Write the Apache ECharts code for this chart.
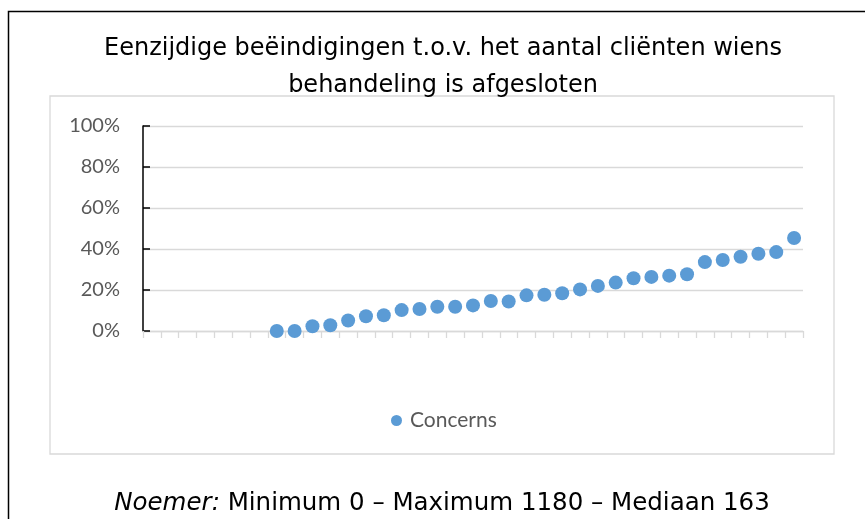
<!DOCTYPE html>
<html>
<head>
<meta charset="utf-8">
<script src="https://cdn.jsdelivr.net/npm/echarts@6/dist/echarts.min.js"></script>
<style>
  html, body { margin: 0; padding: 0; background: #fff; }
  #chart { width: 865px; height: 519px; }
</style>
</head>
<body>
<div id="chart"></div>
<script>
// categorieen (geen labels zichtbaar op de x-as)
var categorieen = [];
for (var k = 1; k <= 37; k++) categorieen.push(String(k));

// percentage eenzijdige beeindigingen per concern (eerste 7 zonder waarde)
var concerns = [null, null, null, null, null, null, null,
    0, 0, 2.3, 2.8, 5.1, 7.2, 7.7, 10.2, 10.7, 11.8,
    11.8, 12.5, 14.6, 14.4, 17.4, 17.7, 18.4, 20.3, 22.0, 23.6,
    25.7, 26.4, 27.0, 27.7, 33.6, 34.6, 36.2, 37.7, 38.5, 45.4];

var yTicks = [0, 20, 40, 60, 80, 100];

var chart = echarts.init(document.getElementById('chart'));

var option = {
    animation: false,
    color: ['#5B9BD5'],
    title: [{
        text: 'Eenzijdige beëindigingen t.o.v. het aantal cliënten wiens\nbehandeling is afgesloten',
        left: 438,
        top: 25,
        textAlign: 'center',
        textStyle: {
            fontFamily: 'DejaVu Sans',
            fontWeight: 'normal',
            fontSize: 24,
            lineHeight: 37,
            color: '#000'
        }
    }, {
        text: '{i|Noemer:} Minimum 0 – Maximum 1180 – Mediaan 163',
        left: 437,
        top: 486,
        textAlign: 'center',
        textStyle: {
            fontFamily: 'DejaVu Sans',
            fontWeight: 'normal',
            fontSize: 24.5,
            color: '#000',
            rich: {
                i: { fontFamily: 'DejaVu Sans', fontStyle: 'italic', fontSize: 24.5, color: '#000' }
            }
        }
    }],
    legend: {
        left: 386,
        top: 405,
        itemWidth: 11,
        itemHeight: 11,
        itemGap: 10,
        icon: 'circle',
        textStyle: { fontFamily: 'Lato', fontSize: 21, color: '#595959', padding: [0, 0, 0, 3] },
        data: ['Concerns']
    },
    grid: { left: 143, top: 126, right: 62, bottom: 188 },
    xAxis: {
        type: 'category',
        data: categorieen,
        boundaryGap: true,
        axisLine: { lineStyle: { color: '#d9d9d9', width: 1.3 } },
        axisTick: { show: true, interval: 0, length: 7, lineStyle: { color: '#d9d9d9', width: 1.3 } },
        axisLabel: { show: false },
        splitLine: { show: false }
    },
    yAxis: {
        type: 'value',
        min: yTicks[0],
        max: yTicks[yTicks.length - 1],
        interval: 20,
        axisLine: { show: true, lineStyle: { color: '#000', width: 1.5 } },
        axisTick: { show: true, inside: true, length: 7, lineStyle: { color: '#000', width: 1.5 } },
        axisLabel: {
            formatter: '{value}%',
            margin: 23,
            fontFamily: 'Lato',
            fontSize: 20,
            color: '#595959'
        },
        splitLine: { lineStyle: { color: '#d9d9d9', width: 1.3 } }
    },
    series: [{
        name: 'Concerns',
        type: 'scatter',
        symbol: 'circle',
        symbolSize: 14,
        itemStyle: { opacity: 1 },
        data: concerns.map(function (v) { return v === null ? '-' : v; })
    }],
    graphic: [{
        type: 'rect',
        shape: { x: 8.5, y: 11.5, width: 950, height: 600 },
        style: { fill: 'none', stroke: '#000', lineWidth: 1.5 },
        silent: true
    }, {
        type: 'rect',
        shape: { x: 50, y: 96, width: 784, height: 358 },
        style: { fill: 'none', stroke: '#d9d9d9', lineWidth: 1.3 },
        silent: true
    }]
};

chart.setOption(option);
</script>
</body>
</html>
